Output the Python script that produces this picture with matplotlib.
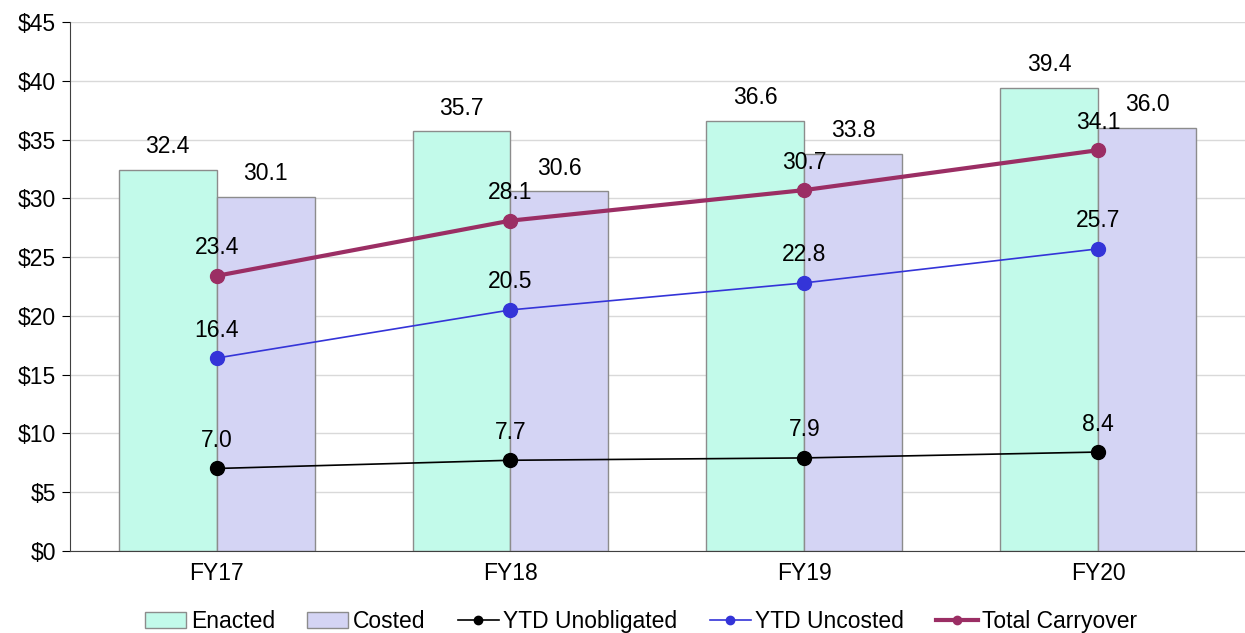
import numpy as np
import matplotlib.pyplot as plt
from matplotlib.ticker import FuncFormatter

plt.rcParams['font.family'] = ['Liberation Sans', 'DejaVu Sans']

years = ['FY17', 'FY18', 'FY19', 'FY20']
enacted = [32.4, 35.7, 36.6, 39.4]
costed = [30.1, 30.6, 33.8, 36.0]
ytd_unobligated = [7.0, 7.7, 7.9, 8.4]
ytd_uncosted = [16.4, 20.5, 22.8, 25.7]
total_carryover = [23.4, 28.1, 30.7, 34.1]

fig = plt.figure(figsize=(12.45, 6.33), dpi=100)
ax = fig.add_axes([0.056, 0.13, 0.944, 0.835])

x = np.arange(len(years))
w = 1 / 3
ax.bar(x - w / 2, enacted, w, color='#C2FAEA', edgecolor='#8C8C8C', linewidth=1, label='Enacted', zorder=2)
ax.bar(x + w / 2, costed, w, color='#D4D4F4', edgecolor='#8C8C8C', linewidth=1, label='Costed', zorder=2)

ax.plot(x, ytd_unobligated, color='black', lw=1.2, marker='o', ms=10, label='YTD Unobligated', zorder=3)
ax.plot(x, ytd_uncosted, color='#3434D8', lw=1.2, marker='o', ms=10, label='YTD Uncosted', zorder=3)
ax.plot(x, total_carryover, color='#9B2E64', lw=3, marker='o', ms=10, label='Total Carryover', zorder=3)

fs = 16.5
for xi, v in zip(x - w / 2, enacted):
    ax.text(xi, v + 1.0, f'{v:.1f}', ha='center', va='bottom', fontsize=fs)
for xi, v in zip(x + w / 2, costed):
    ax.text(xi, v + 1.0, f'{v:.1f}', ha='center', va='bottom', fontsize=fs)
for series in (ytd_unobligated, ytd_uncosted, total_carryover):
    for xi, v in zip(x, series):
        ax.text(xi, v + 1.4, f'{v:.1f}', ha='center', va='bottom', fontsize=fs)

ax.set_xlim(-0.5, 3.5)
ax.set_ylim(0, 45)
ax.set_yticks(range(0, 50, 5))
ax.yaxis.set_major_formatter(FuncFormatter(lambda v, p: f'${v:.0f}'))
ax.set_xticks(x)
ax.set_xticklabels(years)
ax.tick_params(axis='both', labelsize=fs)
ax.tick_params(axis='x', length=0, pad=8)
ax.tick_params(axis='y', length=6, direction='out', pad=4)
ax.yaxis.grid(True, color='#D9D9D9', lw=1, zorder=0)
ax.set_axisbelow(True)
for s in ('top', 'right'):
    ax.spines[s].set_visible(False)
ax.spines['left'].set_color('#404040')
ax.spines['bottom'].set_color('#404040')

# bars first in the legend, then the lines
handles, labels = ax.get_legend_handles_labels()
order = [3, 4, 0, 1, 2]
fig.legend([handles[i] for i in order], [labels[i] for i in order],
           loc='lower center', bbox_to_anchor=(0.515, -0.032), ncol=5, frameon=False, fontsize=fs,
           handlelength=1.8, handletextpad=0.2, columnspacing=1.4, markerscale=0.6)

fig.savefig('out.png', dpi=100)
